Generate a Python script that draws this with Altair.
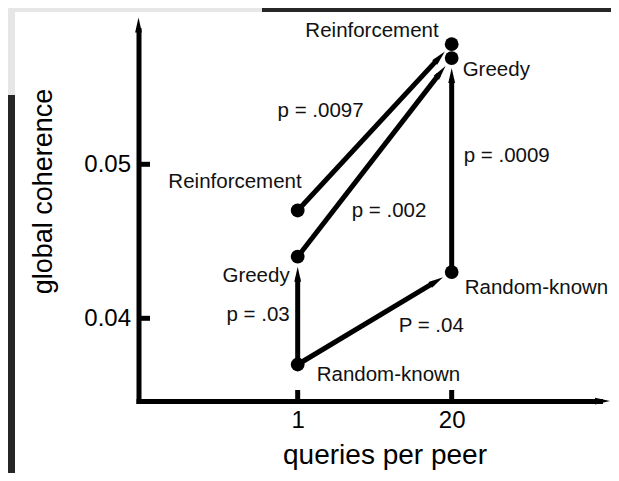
import math
import altair as alt
import pandas as pd

# ---------------- data ----------------
queries = [1, 1, 1, 20, 20, 20]
strategy = ["Reinforcement", "Greedy", "Random-known",
            "Reinforcement", "Greedy", "Random-known"]
coherence = [0.0470, 0.0440, 0.0370, 0.0578, 0.0569, 0.0430]

arrow_from = [0, 1, 5, 2, 2]
arrow_to = [3, 4, 4, 1, 5]
p_values = ["p = .0097", "p = .002", "p = .0009", "p = .03", "P = .04"]

x_ticks = [1, 20]
y_ticks = [0.04, 0.05]
x_title = "queries per peer"
y_title = "global coherence"

# ---------------- layout / style ----------------
W, H = 461.5, 371
X_DOM = [-18.64, 38.30]
Y_DOM = [0.03463, 0.05872]
FONT = "Liberation Sans"
ARROW = "M0,-1L0.45,1L-0.45,1Z"
HEAD = 15.0      # arrowhead length (px)
GAP = 10.0       # gap between arrow tip and target dot centre (px)
LABEL_SIZE = 20.5

# (align, dx, dy) for each point label
point_label_style = [
    ("right", 4, -22),
    ("right", -8, 25),
    ("left", 19, 16),
    ("right", -13, -7),
    ("left", 11, 18),
    ("left", 13, 22),
]
# (align, dx, dy) for each p-value label, relative to arrow midpoint
p_label_style = [
    ("right", -11, -10),
    ("left", -23, 60),
    ("left", 12, -3),
    ("right", -8, 10),
    ("left", 24, 14),
]


def px(v):
    return (v - X_DOM[0]) / (X_DOM[1] - X_DOM[0]) * W


def py(v):
    return H - (v - Y_DOM[0]) / (Y_DOM[1] - Y_DOM[0]) * H


def inv_x(p):
    return X_DOM[0] + p / W * (X_DOM[1] - X_DOM[0])


def inv_y(p):
    return Y_DOM[0] + (H - p) / H * (Y_DOM[1] - Y_DOM[0])


xs = alt.Scale(domain=X_DOM, nice=False, zero=False)
ys = alt.Scale(domain=Y_DOM, nice=False, zero=False)

x_axis = alt.Axis(
    values=x_ticks, format="d", title=x_title, grid=False,
    domain=True, domainWidth=5, domainColor="black", domainCap="square",
    ticks=False, tickSize=0, labelFont=FONT, labelFontSize=24,
    labelColor="black", labelPadding=7, labelBaseline="top",
    labelFlush=False, labelOverlap=False,
    titleFont=FONT, titleFontSize=28, titleFontWeight="normal",
    titleColor="black", titleX=246, titleY=62, titleAlign="center",
    titleBaseline="alphabetic", zindex=1,
)
y_axis = alt.Axis(
    values=y_ticks, format=".2f", title=y_title, grid=False,
    domain=True, domainWidth=5, domainColor="black", domainCap="square",
    ticks=False, tickSize=0, labelFont=FONT, labelFontSize=24,
    labelColor="black", labelPadding=8, labelBaseline="middle",
    labelFlush=False, labelOverlap=False,
    titleFont=FONT, titleFontSize=27, titleFontWeight="normal",
    titleColor="black", titleX=-86.8, titleY=161, titleAngle=270,
    titleAlign="center", titleBaseline="alphabetic", zindex=1,
)


def X(field):
    return alt.X(field, type="quantitative", scale=xs, axis=x_axis)


def Y(field):
    return alt.Y(field, type="quantitative", scale=ys, axis=y_axis)


points = pd.DataFrame({"q": queries, "c": coherence, "label": strategy})

# arrows
rows = []
for i, (a, b) in enumerate(zip(arrow_from, arrow_to)):
    x1, y1 = px(queries[a]), py(coherence[a])
    x2, y2 = px(queries[b]), py(coherence[b])
    d = math.hypot(x2 - x1, y2 - y1)
    ux, uy = (x2 - x1) / d, (y2 - y1) / d
    hx, hy = x2 - ux * (GAP + HEAD / 2), y2 - uy * (GAP + HEAD / 2)
    ex, ey = x2 - ux * (GAP + HEAD - 4), y2 - uy * (GAP + HEAD - 4)
    ang = math.degrees(math.atan2(ux, -uy)) % 360
    rows.append({
        "q": queries[a], "c": coherence[a],
        "q2": inv_x(ex), "c2": inv_y(ey),
        "hq": inv_x(hx), "hc": inv_y(hy), "ang": ang,
        "mq": (queries[a] + queries[b]) / 2,
        "mc": (coherence[a] + coherence[b]) / 2,
        "label": p_values[i],
    })
arrows = pd.DataFrame(rows)
one = pd.DataFrame({"k": [0]})

layers = []

# decorative panel / background
layers.append(alt.Chart(one).mark_rect(color="#e6e6e6").encode(
    x=alt.value(-140), x2=alt.value(123.5), y=alt.value(-31), y2=alt.value(65)))
layers.append(alt.Chart(one).mark_rect(color="white").encode(
    x=alt.value(-123.5), x2=alt.value(480.5), y=alt.value(-18), y2=alt.value(451)))

# axis ticks (inward)
layers.append(alt.Chart(pd.DataFrame({"c": y_ticks})).mark_rule(
    color="black", strokeWidth=5).encode(
    y=Y("c"), x=alt.value(0), x2=alt.value(11.5)))
layers.append(alt.Chart(pd.DataFrame({"q": x_ticks})).mark_rule(
    color="black", strokeWidth=5).encode(
    x=X("q"), y=alt.value(H), y2=alt.value(H - 11)))

# axis arrowheads
layers.append(alt.Chart(one).mark_point(
    shape=ARROW, size=225, filled=True, color="black", opacity=1,
    strokeWidth=0, angle=90).encode(x=alt.value(464), y=alt.value(H)))
layers.append(alt.Chart(one).mark_point(
    shape=ARROW, size=225, filled=True, color="black", opacity=1,
    strokeWidth=0, angle=0).encode(x=alt.value(0), y=alt.value(-5)))

# arrow shafts
layers.append(alt.Chart(arrows).mark_rule(
    color="black", strokeWidth=5, strokeCap="butt").encode(
    x=X("q"), y=Y("c"), x2="q2:Q", y2="c2:Q"))
# arrow heads
layers.append(alt.Chart(arrows).mark_point(
    shape=ARROW, size=HEAD * HEAD, filled=True, color="black", opacity=1,
    strokeWidth=0).encode(
    x=X("hq"), y=Y("hc"), angle=alt.Angle("ang:Q", scale=None)))

# dots
layers.append(alt.Chart(points).mark_circle(
    size=190, color="black", opacity=1).encode(x=X("q"), y=Y("c")))

# point labels
for i, (al, dx, dy) in enumerate(point_label_style):
    layers.append(alt.Chart(points.iloc[[i]]).mark_text(
        align=al, baseline="alphabetic", dx=dx, dy=dy, font=FONT,
        fontSize=LABEL_SIZE, fontWeight="normal", fill="#111111",
        strokeWidth=0).encode(
        x=X("q"), y=Y("c"), text="label:N"))

# p-value labels
for i, (al, dx, dy) in enumerate(p_label_style):
    layers.append(alt.Chart(arrows.iloc[[i]]).mark_text(
        align=al, baseline="alphabetic", dx=dx, dy=dy, font=FONT,
        fontSize=LABEL_SIZE, fontWeight="normal", fill="#111111",
        strokeWidth=0).encode(
        x=X("mq"), y=Y("mc"), text="label:N"))

chart = alt.layer(*layers).properties(
    width=W, height=H,
    padding={"left": 130.5, "top": 22, "right": 11, "bottom": 72},
    autosize=alt.AutoSizeParams(type="none"),
    background="#262626",
).configure_view(strokeWidth=0)

chart.save("out.html", embed_options={"renderer": "svg", "actions": False})
